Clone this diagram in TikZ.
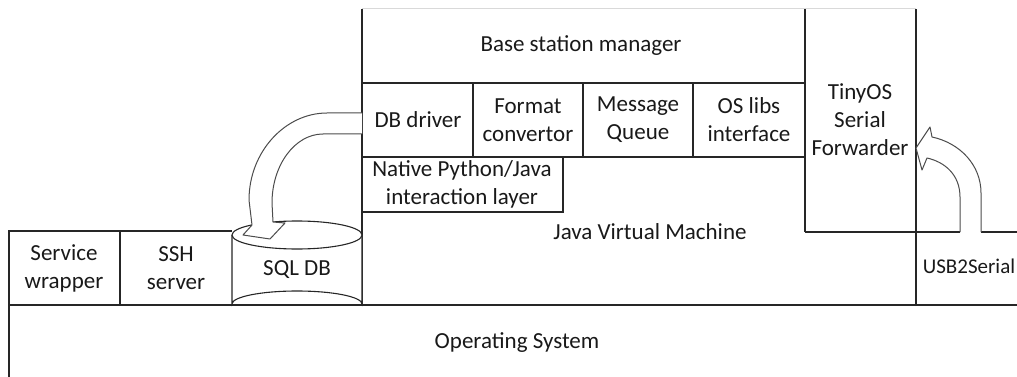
\documentclass[tikz,border=0pt]{standalone}
\usepackage{fontspec}
\setmainfont{Carlito}
\begin{document}
\begin{tikzpicture}[x=1pt,y=-1pt,
  ln/.style={draw=black!85,line width=1.1pt},
  lbl/.style={font=\fontsize{23}{28}\selectfont,align=center,inner sep=0pt,text=black!90},
  blockarrow/.style={draw=black!70,fill=white,line width=1pt,line join=round}]
\useasboundingbox (0,0) rectangle (1017,377);
% outlines
\draw[draw=black!15,line width=1pt] (362,9) -- (916,9);
\draw[ln] (362,306) -- (362,9);
\draw[ln] (805,232) -- (805,9);
\draw[ln] (916,306) -- (916,9);
\draw[ln] (362,83) -- (805,83);
\draw[ln] (362,157) -- (805,157);
\draw[ln] (473,83) -- (473,157);
\draw[ln] (583,83) -- (583,157);
\draw[ln] (693,83) -- (693,157);
\draw[ln] (362,212) -- (563,212) -- (563,157);
\draw[ln] (805,232) -- (916,232);
\draw[ln] (916,232) -- (960,232);
\draw[ln] (981,232) -- (1017,232);
\draw[ln] (9,305) -- (1017,305);
\draw[ln] (9,377) -- (9,231) -- (232,231);
\draw[ln] (120,231) -- (120,305);
% cylinder
\draw[ln,fill=white] (232,235) -- (232,304) arc[start angle=180,end angle=360,x radius=65,y radius=13] -- (362,235);
\draw[ln,fill=white] (297,235) ellipse[x radius=65,y radius=14];
% labels
\node[lbl] (bsm) at (581,46) {Base station manager};
\node[lbl] (dbd) at (418,120) {DB driver};
\node[lbl] (fmt) at (528,120) {Format\\convertor};
\node[lbl] (mq) at (638,120) {Message\\Queue};
\node[lbl] (osl) at (749,120) {OS libs\\interface};
\node[lbl] (nat) at (462,184) {Native Python/Java\\interaction layer};
\node[lbl] (jvm) at (650,232) {Java Virtual Machine};
\node[lbl] (tiny) at (860,120) {TinyOS\\Serial\\Forwarder};
\node[lbl,font=\fontsize{21}{25}\selectfont] (usb) at (969,266) {USB2Serial};
\node[lbl] (svc) at (64,268) {Service\\wrapper};
\node[lbl] (ssh) at (176,268) {SSH\\server};
\node[lbl] (sql) at (297,270) {SQL DB};
\node[lbl] (os) at (517,343) {Operating System};
% block arrows
\draw[blockarrow] (362,113) -- (327,113) .. controls (285,113) and (249,152) .. (249,200) -- (252,225)
  -- (243,235) -- (270,239) -- (285,223) -- (273,222) -- (272,203)
  .. controls (272,165) and (295,134) .. (323,134) -- (362,134);
\draw[blockarrow] (960,232) -- (960,197) .. controls (960,175) and (945,162) .. (927,158)
  -- (922,170) -- (916,148) -- (930,127) -- (932,137)
  .. controls (960,143) and (981,165) .. (981,193) -- (981,232);
\end{tikzpicture}
\end{document}
